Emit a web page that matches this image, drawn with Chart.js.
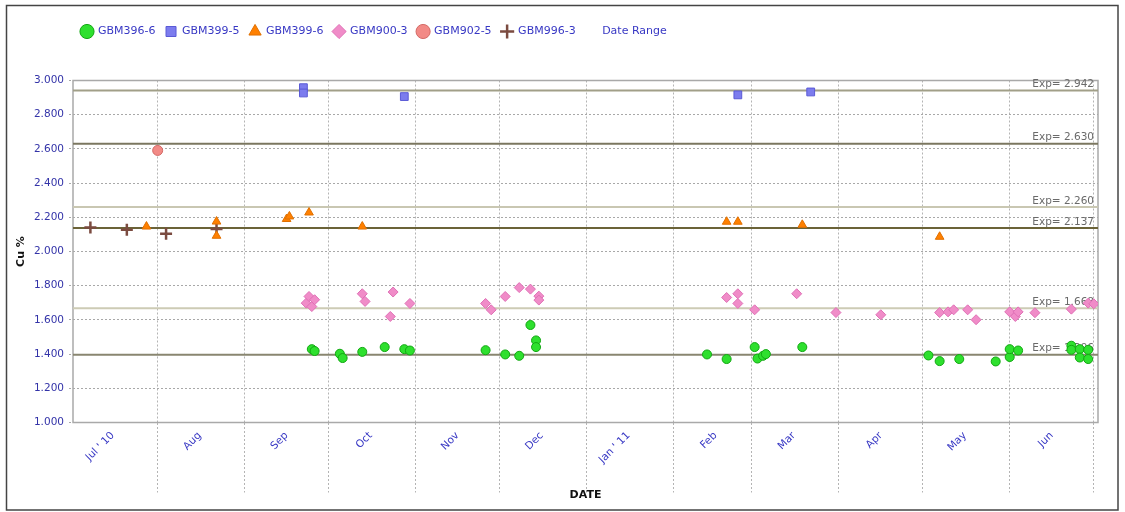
<!DOCTYPE html>
<html><head><meta charset="utf-8">
<script src="https://cdn.jsdelivr.net/npm/chart.js@4.4.0/dist/chart.umd.min.js"></script>
<style>html,body{margin:0;padding:0;background:#fff;}canvas{display:block;}</style>
</head><body>
<canvas id="c" width="1125" height="512"></canvas>
<script>
// ---- data (date, Cu %) ----
const GBM396_6 = [
  ['2010-09-25',1.429],['2010-09-26',1.418],['2010-10-05',1.402],['2010-10-06',1.377],
  ['2010-10-13',1.413],['2010-10-21',1.441],['2010-10-28',1.429],['2010-10-30',1.421],
  ['2010-11-26',1.423],['2010-12-03',1.398],['2010-12-08',1.390],['2010-12-12',1.570],
  ['2010-12-14',1.480],['2010-12-14',1.441],['2011-02-13',1.398],['2011-02-20',1.371],
  ['2011-03-02',1.441],['2011-03-03',1.374],['2011-03-05',1.390],['2011-03-06',1.400],
  ['2011-03-19',1.441],['2011-05-03',1.392],['2011-05-07',1.359],['2011-05-14',1.371],
  ['2011-05-27',1.357],['2011-06-01',1.383],['2011-06-01',1.429],['2011-06-04',1.421],
  ['2011-06-23',1.449],['2011-06-23',1.425],['2011-06-26',1.429],['2011-06-26',1.380],
  ['2011-06-29',1.425],['2011-06-29',1.371]
];
const GBM399_5 = [
  ['2010-09-22',2.958],['2010-09-22',2.927],['2010-10-28',2.906],['2011-02-24',2.916],['2011-03-22',2.933]
];
const GBM399_6 = [
  ['2010-07-28',2.146],['2010-08-22',2.175],['2010-08-22',2.092],['2010-09-16',2.190],
  ['2010-09-17',2.205],['2010-09-24',2.228],['2010-10-13',2.146],['2011-02-20',2.174],
  ['2011-02-24',2.174],['2011-03-19',2.156],['2011-05-07',2.086]
];
const GBM900_3 = [
  ['2010-09-23',1.698],['2010-09-24',1.737],['2010-09-25',1.678],['2010-09-26',1.718],
  ['2010-10-13',1.753],['2010-10-14',1.708],['2010-10-23',1.620],['2010-10-24',1.763],
  ['2010-10-30',1.696],['2010-11-26',1.696],['2010-11-28',1.659],['2010-12-03',1.737],
  ['2010-12-08',1.789],['2010-12-12',1.780],['2010-12-15',1.739],['2010-12-15',1.716],
  ['2011-02-20',1.731],['2011-02-24',1.753],['2011-02-24',1.696],['2011-03-02',1.659],
  ['2011-03-17',1.753],['2011-03-31',1.643],['2011-04-16',1.630],['2011-05-07',1.643],
  ['2011-05-10',1.647],['2011-05-12',1.659],['2011-05-17',1.659],['2011-05-20',1.601],
  ['2011-06-01',1.647],['2011-06-03',1.620],['2011-06-04',1.647],['2011-06-10',1.642],
  ['2011-06-23',1.663],['2011-06-29',1.698],['2011-07-01',1.694]
];
const GBM902_5 = [['2010-08-01',2.591]];
const GBM996_3 = [
  ['2010-07-08',2.140],['2010-07-21',2.127],['2010-08-04',2.104],['2010-08-22',2.131]
];
const expValues = [2.942, 2.630, 2.260, 2.137, 1.668, 1.396];
const expColors = ['#a19f88','#7b7760','#c9c7b2','#6b6338','#cdcbb5','#898670'];
const monthLabels = ["Jul ' 10","Aug","Sep","Oct","Nov","Dec","Jan ' 11","Feb","Mar","Apr","May","Jun"];
const axisStart = Date.UTC(2010,6,1,19);
const axisEnd = Date.UTC(2011,6,2,12);

const toPts = arr => arr.map(([d,v]) => ({x: Date.parse(d), y: v}));
const FONT = 'DejaVu Sans';
const BLUE = '#3838c4';

const pointSets = [
  {label:'GBM396-6', data:toPts(GBM396_6), pointStyle:'circle', pointRadius:4.5, backgroundColor:'#2ee02e', borderColor:'#12a812', borderWidth:1},
  {label:'GBM399-5', data:toPts(GBM399_5), pointStyle:'rect', pointRadius:5.5, backgroundColor:'#7c7cee', borderColor:'#5a5ad6', borderWidth:1},
  {label:'GBM399-6', data:toPts(GBM399_6), pointStyle:'triangle', pointRadius:5, backgroundColor:'#ff8000', borderColor:'#e07000', borderWidth:1},
  {label:'GBM900-3', data:toPts(GBM900_3), pointStyle:'rectRot', pointRadius:5, backgroundColor:'#f08cc8', borderColor:'#e070b6', borderWidth:1},
  {label:'GBM902-5', data:toPts(GBM902_5), pointStyle:'circle', pointRadius:5, backgroundColor:'#f28a86', borderColor:'#d46a66', borderWidth:1},
  {label:'GBM996-3', data:toPts(GBM996_3), pointStyle:'cross', pointRadius:6, backgroundColor:'#7b4b40', borderColor:'#7b4b40', borderWidth:2.5},
  {label:'Date Range', data:[], pointStyle:'circle', backgroundColor:'rgba(0,0,0,0)', borderColor:'rgba(0,0,0,0)'}
].map(d => Object.assign({order:0, pointHoverRadius:d.pointRadius}, d));

const expSets = expValues.map((v,i) => ({
  label:'Exp '+v, type:'scatter', showLine:true, order:10,
  data:[{x:axisStart,y:v},{x:axisEnd,y:v}],
  borderColor:expColors[i], borderWidth:2, pointRadius:0, backgroundColor:expColors[i]
}));

const isMonthStart = v => new Date(v).getUTCDate() === 1;

const decor = {
  id:'decor',
  beforeInit(chart){
    const lg = chart.legend;
    const fit = lg.fit;
    lg.fit = function(){ fit.call(this); this.height = 64.5; };
  },
  afterLayout(chart){
    const lg = chart.legend;
    const dx = 63.5;
    lg.left += dx; lg.right += dx;
  },
  beforeDraw(chart){
    const c = chart.ctx;
    c.save(); c.fillStyle = '#fff'; c.fillRect(0,0,chart.width,chart.height); c.restore();
  },
  beforeDatasetsDraw(chart){
    const c = chart.ctx, a = chart.chartArea, ys = chart.scales.y;
    c.save();
    c.strokeStyle = '#a9a9a9'; c.lineWidth = 1.5;
    c.strokeRect(a.left, a.top, a.right - a.left, a.bottom - a.top);
    c.font = '10.5px "' + FONT + '"';
    c.fillStyle = '#6a6a6a';
    c.textAlign = 'right'; c.textBaseline = 'alphabetic';
    expValues.forEach(v => {
      c.fillText('Exp= ' + v.toFixed(3), a.right - 4, ys.getPixelForValue(v) - 3.5);
    });
    c.restore();
  },
  afterDraw(chart){
    const c = chart.ctx;
    c.save(); c.strokeStyle = '#444'; c.lineWidth = 1.5;
    c.strokeRect(6.5, 5.5, 1111.5, 504.5); c.restore();
  }
};

new Chart(document.getElementById('c'), {
  type:'scatter',
  data:{ datasets:[...pointSets, ...expSets] },
  plugins:[decor],
  options:{
    responsive:false, animation:false,
    layout:{ padding:{left:8, right:27, top:16, bottom:10} },
    plugins:{
      tooltip:{enabled:false},
      legend:{
        position:'top', align:'start',
        labels:{
          usePointStyle:true, boxHeight:10, padding:10, color:BLUE,
          font:{family:FONT, size:11},
          filter:item => item.datasetIndex < 7
        }
      }
    },
    scales:{
      x:{
        type:'linear', min:axisStart, max:axisEnd,
        afterBuildTicks(scale){
          const t = [];
          for (let i = 0; i < 12; i++) {
            t.push({value: Date.UTC(2010, 6 + i, 16)});
            t.push({value: Date.UTC(2010, 7 + i, 1)});
          }
          scale.ticks = t;
        },
        afterFit(scale){ scale.height = 79.5; },
        ticks:{
          autoSkip:false, minRotation:45, maxRotation:45, padding:-63,
          color:BLUE, font:{family:FONT, size:10.5},
          callback(v){
            if (isMonthStart(v)) return '';
            const d = new Date(v);
            return monthLabels[(d.getUTCFullYear()-2010)*12 + d.getUTCMonth() - 6];
          }
        },
        grid:{
          color:ctx => (ctx.tick && isMonthStart(ctx.tick.value)) ? '#b4b4b4' : 'rgba(0,0,0,0)',
          tickColor:ctx => (ctx.tick && isMonthStart(ctx.tick.value)) ? '#b4b4b4' : 'rgba(0,0,0,0)',
          tickBorderDash:[2,2], tickLength:70, lineWidth:1
        },
        border:{display:false, dash:[2,2]},
        title:{display:true, text:'DATE', color:'#111', font:{family:FONT, size:11, weight:'bold'}, padding:{top:0,bottom:0}}
      },
      y:{
        min:1, max:3,
        afterFit(scale){ scale.width = 65; },
        ticks:{ stepSize:0.2, padding:5, color:'#3333a8', font:{family:FONT, size:10.5},
          callback:v => Number(v).toFixed(3) },
        grid:{ color:'#a8a8a8', tickBorderDash:[2,2], tickLength:4, lineWidth:1 },
        border:{display:false, dash:[2,2]},
        title:{display:true, text:'Cu %', color:'#111', font:{family:FONT, size:11, weight:'bold'}, padding:{top:7,bottom:0}}
      }
    }
  }
});
</script>
</body></html>
